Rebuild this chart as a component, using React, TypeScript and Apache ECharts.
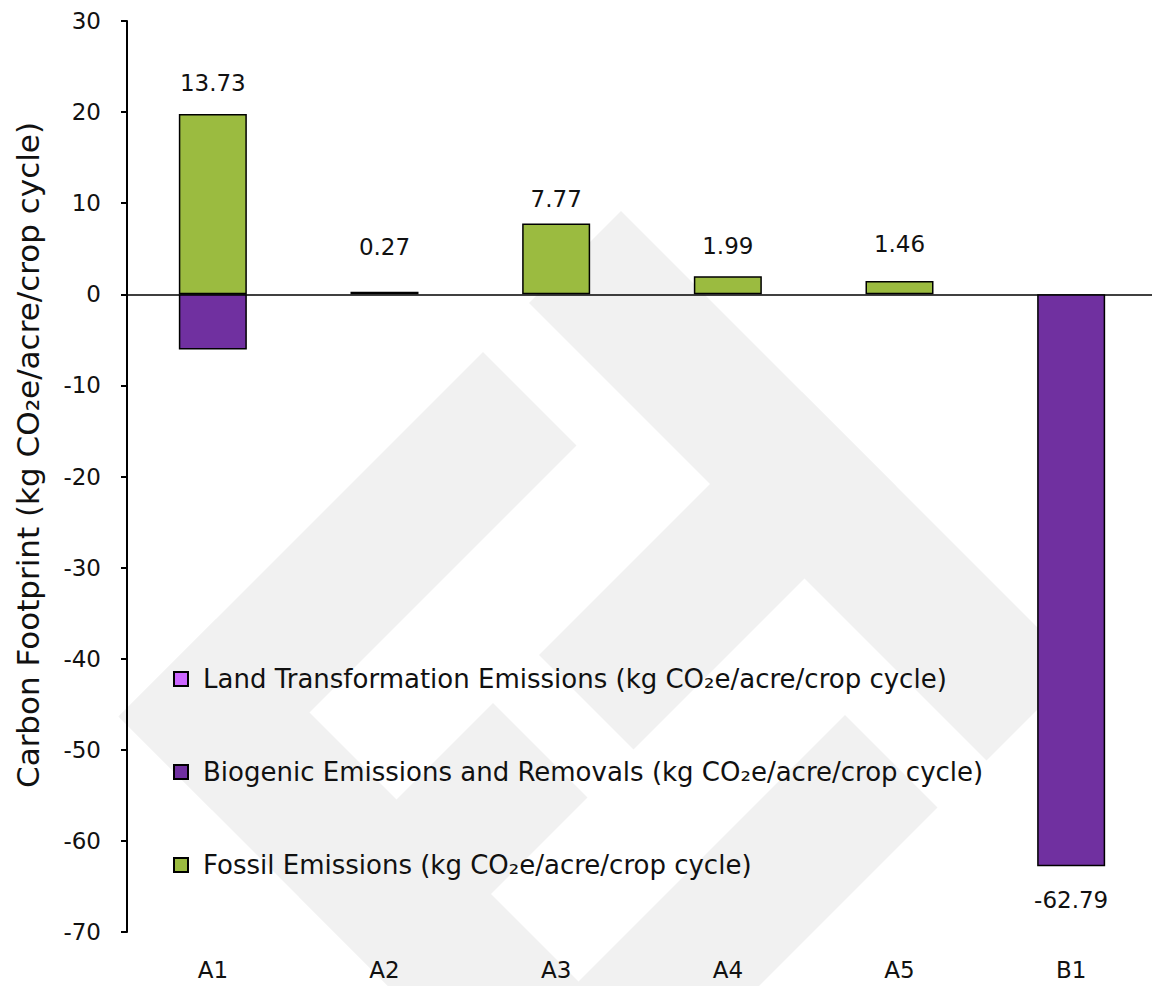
import React, { useEffect, useRef } from "react";
import * as echarts from "echarts";

const categories = ["A1", "A2", "A3", "A4", "A5", "B1"];
const fossilEmissions = [19.78, 0.27, 7.77, 1.99, 1.46, 0];
const biogenicEmissions = [-6.05, 0, 0, 0, 0, -62.79];
const landTransformation = [0, 0, 0, 0, 0, 0];
const yMin = -70;
const yMax = 30;
const yInterval = 10;

const seriesNames = {
  land: "Land Transformation Emissions (kg CO\u2082e/acre/crop cycle)",
  bio: "Biogenic Emissions and Removals (kg CO\u2082e/acre/crop cycle)",
  fossil: "Fossil Emissions (kg CO\u2082e/acre/crop cycle)",
};
const yTitle = "Carbon Footprint (kg CO\u2082e/acre/crop cycle)";

// label spacing per category (style only)
const labelGap = [20, 33, 13, 19, 25, 22];

const FONT = "'DejaVu Sans', sans-serif";
const TEXT = "#111";

export default function App() {
  const ref = useRef<HTMLDivElement>(null);

  useEffect(() => {
    if (!ref.current) return;
    const chart = echarts.init(ref.current, null, { renderer: "svg" });

    const totals = categories.map(
      (_, i) => fossilEmissions[i] + biogenicEmissions[i] + landTransformation[i]
    );
    const nz = (v: number) => (v === 0 ? null : v);

    // watermark bands at 45 degrees: s = x + y, d = y - x
    const P = (s: number, d: number) => [(s - d) / 2, (s + d) / 2];
    const band = (s0: number, s1: number, d0: number, d1: number) => ({
      type: "polygon",
      silent: true,
      z: -100,
      shape: { points: [P(s0, d0), P(s1, d0), P(s1, d1), P(s0, d1)] },
      style: { fill: "#f1f1f1" },
    });
    const watermark = [
      band(835, 1022, -131, 598),
      band(835, 1760, 403, 598),
      band(1196, 1385, 210, 598),
      band(832, 1747, -410, -226),
      band(1194, 1383, -410, 116),
      band(1560, 1745, -130, 700),
    ];

    const labelStyle = {
      fontFamily: FONT,
      fontSize: 23,
      color: TEXT,
    };

    const option: any = {
      animation: false,
      backgroundColor: "#fff",
      textStyle: { fontFamily: FONT },
      grid: {
        left: 127,
        right: -5,
        top: 21,
        bottom: 54,
        containLabel: false,
        outerBoundsMode: "none",
      },
      legend: {
        orient: "vertical",
        left: 168,
        top: 659,
        itemWidth: 14,
        itemHeight: 14,
        itemGap: 63,
        icon: "rect",
        data: [seriesNames.land, seriesNames.bio, seriesNames.fossil],
        textStyle: {
          fontFamily: FONT,
          fontSize: 26,
          color: TEXT,
          lineHeight: 30,
          padding: [0, 0, 0, 10],
        },
        selectedMode: false,
      },
      xAxis: [
        {
          type: "category",
          data: categories,
          position: "bottom",
          axisLine: {
            show: true,
            onZero: true,
            lineStyle: { color: "#000", width: 1.5 },
          },
          axisTick: { show: false },
          axisLabel: { show: false },
          splitLine: { show: false },
        },
        {
          type: "category",
          data: categories,
          position: "bottom",
          axisLine: { show: false, onZero: false },
          axisTick: { show: false },
          axisLabel: {
            show: true,
            margin: 26,
            fontFamily: FONT,
            fontSize: 23,
            color: TEXT,
          },
          splitLine: { show: false },
        },
      ],
      yAxis: {
        type: "value",
        min: yMin,
        max: yMax,
        interval: yInterval,
        axisLine: {
          show: true,
          onZero: false,
          lineStyle: { color: "#000", width: 2 },
        },
        axisTick: {
          show: true,
          length: 6,
          lineStyle: { color: "#000", width: 2 },
        },
        axisLabel: {
          margin: 26,
          fontFamily: FONT,
          fontSize: 23,
          color: TEXT,
        },
        splitLine: { show: false },
      },
      graphic: [
        ...watermark,
        {
          type: "text",
          x: 28,
          y: 455,
          rotation: Math.PI / 2,
          silent: true,
          style: {
            text: yTitle,
            textAlign: "center",
            textVerticalAlign: "middle",
            font: `31px ${FONT}`,
            fill: TEXT,
          },
        },
      ],
      series: [
        {
          name: seriesNames.fossil,
          type: "bar",
          stack: "total",
          xAxisIndex: 0,
          barWidth: 68,
          itemStyle: { color: "#9BBB40", borderColor: "#000", borderWidth: 1.5 },
          data: fossilEmissions.map((v, i) => ({
            value: nz(v),
            label: {
              show: totals[i] >= 0,
              position: "top",
              distance: labelGap[i],
              formatter: () => totals[i].toFixed(2),
              ...labelStyle,
            },
          })),
        },
        {
          name: seriesNames.bio,
          type: "bar",
          stack: "total",
          xAxisIndex: 0,
          barWidth: 68,
          itemStyle: { color: "#7030A0", borderColor: "#000", borderWidth: 1.5 },
          data: biogenicEmissions.map((v, i) => ({
            value: nz(v),
            label: {
              show: totals[i] < 0,
              position: "bottom",
              distance: labelGap[i],
              formatter: () => totals[i].toFixed(2),
              ...labelStyle,
            },
          })),
        },
        {
          name: seriesNames.land,
          type: "bar",
          stack: "total",
          xAxisIndex: 0,
          barWidth: 68,
          itemStyle: { color: "#CC66FF", borderColor: "#000", borderWidth: 1.5 },
          data: landTransformation.map((v) => nz(v)),
        },
      ],
    };

    chart.setOption(option);
    return () => chart.dispose();
  }, []);

  return (
    <div
      ref={ref}
      style={{
        position: "fixed",
        left: 0,
        top: 0,
        width: 1152,
        height: 986,
        background: "#fff",
      }}
    />
  );
}
